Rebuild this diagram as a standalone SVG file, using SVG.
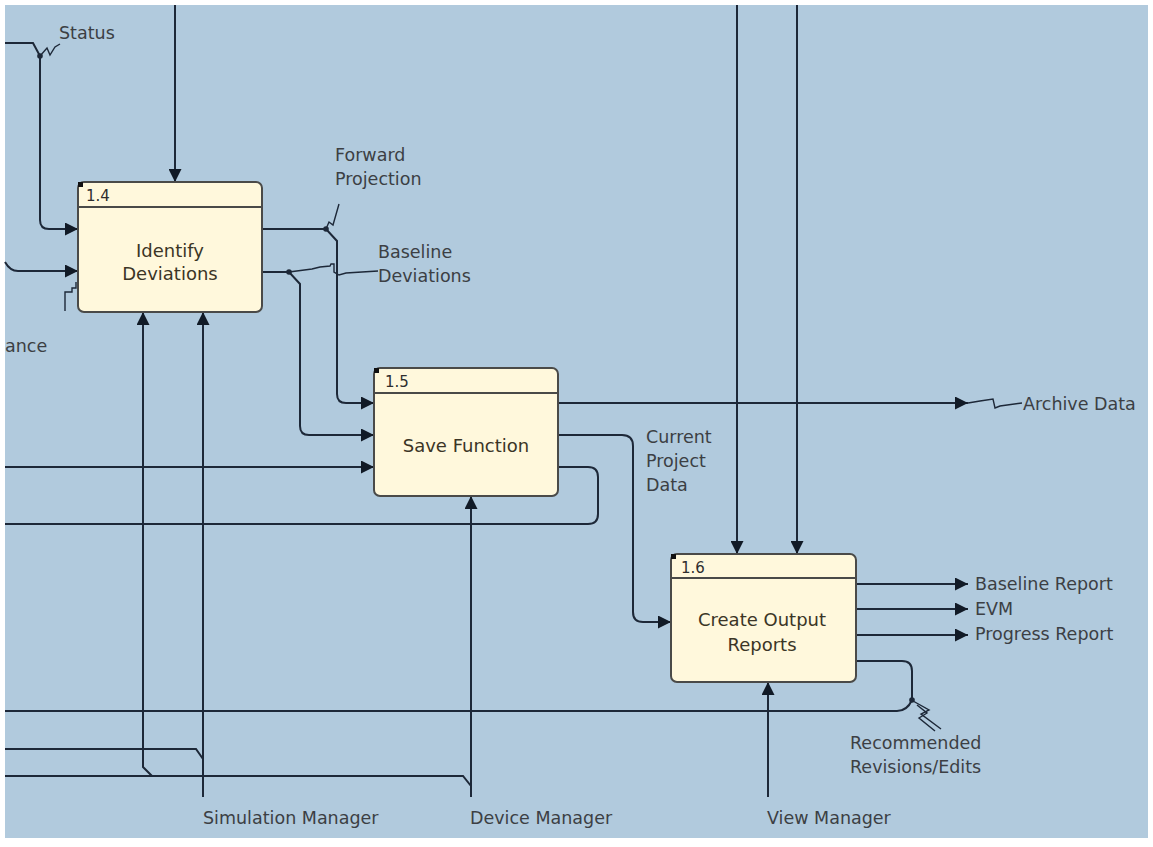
<svg xmlns="http://www.w3.org/2000/svg" width="1153" height="847" viewBox="0 0 1153 847">
  <style>
    .bg { fill: #b1cadd; }
    .box { fill: #fff8dc; stroke: #4a4a48; stroke-width: 2; }
    .hdr { stroke: #4a4a48; stroke-width: 2; }
    .flow { fill: none; stroke: #1d2838; stroke-width: 2; }
    .tick { fill: none; stroke: #1d2838; stroke-width: 1.4; }
    .dot { fill: #1d2838; }
    .corner { fill: #111; }
    text { font-family: "DejaVu Sans", Verdana, sans-serif; font-size: 17.5px; fill: #3c3f44; }
    .num { font-size: 15px; fill: #2e2e2e; }
    .name { font-size: 18px; text-anchor: middle; fill: #3b3526; }
  </style>
  <defs>
    <marker id="arrow" viewBox="0 0 12 12" refX="12" refY="6" markerWidth="13" markerHeight="13" markerUnits="userSpaceOnUse" orient="auto">
      <path d="M0,0 L12,6 L0,12 z" fill="#111a26"/>
    </marker>
  </defs>

  <rect width="1153" height="847" fill="#ffffff"/>
  <rect class="bg" x="5" y="5" width="1143" height="833"/>

  <!-- data flows -->
  <g id="connectors">
    <!-- controls from above -->
    <path class="flow" d="M175,5 L175,182" marker-end="url(#arrow)"/>
    <path class="flow" d="M737,5 L737,554" marker-end="url(#arrow)"/>
    <path class="flow" d="M797,5 L797,554" marker-end="url(#arrow)"/>

    <!-- Status into 1.4 -->
    <path class="flow" d="M5,43 L33,43 L40,56 L40,220 Q40,229 49,229 L78,229" marker-end="url(#arrow)"/>
    <circle class="dot" cx="40" cy="56" r="2.8"/>
    <path class="tick" d="M40,56 L47,48 L50,55 L55,47 L60,44"/>

    <!-- left input into 1.4 -->
    <path class="flow" d="M5,262 Q10,271 18,271 L78,271" marker-end="url(#arrow)"/>
    <path class="tick" d="M65,311 L65,292 L72,292 L72,288 L76,288 L76,282"/>

    <!-- Forward Projection: 1.4 to 1.5 -->
    <path class="flow" d="M262,229 L326,229 L337,241 L337,394 Q337,403 346,403 L374,403" marker-end="url(#arrow)"/>
    <circle class="dot" cx="326" cy="229" r="2.8"/>
    <path class="tick" d="M326,229 L329,222 L333,225 L339,204"/>

    <!-- Baseline Deviations: 1.4 to 1.5 -->
    <path class="flow" d="M262,272 L289,272 L300,284 L300,426 Q300,435 309,435 L374,435" marker-end="url(#arrow)"/>
    <circle class="dot" cx="289" cy="272" r="2.8"/>
    <path class="tick" d="M289,272 L312,269 L320,267 L330,266 L331,264 L334,264 L334,272 L339,275 L346,273 L378,271"/>

    <!-- left input into 1.5 -->
    <path class="flow" d="M5,467 L374,467" marker-end="url(#arrow)"/>

    <!-- 1.5 loop back out to the left -->
    <path class="flow" d="M558,467 L588,467 Q598,467 598,477 L598,514 Q598,524 588,524 L5,524"/>

    <!-- Archive Data -->
    <path class="flow" d="M558,403 L968,403" marker-end="url(#arrow)"/>
    <path class="tick" d="M968,403 L980,401 L993,399 L995,408 L1000,406 L1022,403"/>

    <!-- Current Project Data: 1.5 to 1.6 -->
    <path class="flow" d="M558,435 L622,435 Q633,435 633,446 L633,612 Q633,622 643,622 L671,622" marker-end="url(#arrow)"/>

    <!-- 1.6 report outputs -->
    <path class="flow" d="M856,584 L968,584" marker-end="url(#arrow)"/>
    <path class="flow" d="M856,609 L968,609" marker-end="url(#arrow)"/>
    <path class="flow" d="M856,635 L968,635" marker-end="url(#arrow)"/>

    <!-- Recommended Revisions/Edits -->
    <path class="flow" d="M856,661 L902,661 Q912,661 912,671 L912,700"/>
    <path class="flow" d="M912,700 Q907,711 897,711 L5,711"/>
    <circle class="dot" cx="912" cy="700" r="2.8"/>
    <path class="tick" d="M913,701 L929,710 L921,714 L941,729"/>
    <path class="tick" d="M917,705 L927,713 L919,718 L935,731"/>

    <!-- mechanisms from below -->
    <path class="flow" d="M203,797 L203,312" marker-end="url(#arrow)"/>
    <path class="flow" d="M5,749 L196,749 L203,759"/>
    <path class="flow" d="M152,776 L143,767 L143,312" marker-end="url(#arrow)"/>
    <path class="flow" d="M471,797 L471,496" marker-end="url(#arrow)"/>
    <path class="flow" d="M5,776 L463,776 L471,786"/>
    <path class="flow" d="M768,797 L768,682" marker-end="url(#arrow)"/>
  </g>

  <!-- 1.4 Identify Deviations -->
  <g id="node-1-4">
    <rect class="box" x="78" y="182" width="184" height="130" rx="6"/>
    <line class="hdr" x1="78" y1="207" x2="262" y2="207"/>
    <rect class="corner" x="78" y="182" width="5" height="5"/>
    <text class="num" x="86" y="201">1.4</text>
    <text class="name" x="170" y="257">Identify</text>
    <text class="name" x="170" y="280">Deviations</text>
  </g>

  <!-- 1.5 Save Function -->
  <g id="node-1-5">
    <rect class="box" x="374" y="368" width="184" height="128" rx="6"/>
    <line class="hdr" x1="374" y1="393" x2="558" y2="393"/>
    <rect class="corner" x="374" y="368" width="5" height="5"/>
    <text class="num" x="385" y="387">1.5</text>
    <text class="name" x="466" y="452">Save Function</text>
  </g>

  <!-- 1.6 Create Output Reports -->
  <g id="node-1-6">
    <rect class="box" x="671" y="554" width="185" height="128" rx="6"/>
    <line class="hdr" x1="671" y1="578" x2="856" y2="578"/>
    <rect class="corner" x="671" y="554" width="5" height="5"/>
    <text class="num" x="681" y="573">1.6</text>
    <text class="name" x="762" y="626">Create Output</text>
    <text class="name" x="762" y="651">Reports</text>
  </g>

  <!-- flow labels -->
  <g id="labels">
    <text x="59" y="39">Status</text>
    <text x="335" y="161">Forward</text>
    <text x="335" y="185">Projection</text>
    <text x="378" y="258">Baseline</text>
    <text x="378" y="282">Deviations</text>
    <text x="5" y="352">ance</text>
    <text x="1023" y="410">Archive Data</text>
    <text x="646" y="443">Current</text>
    <text x="646" y="467">Project</text>
    <text x="646" y="491">Data</text>
    <text x="975" y="590">Baseline Report</text>
    <text x="975" y="615">EVM</text>
    <text x="975" y="640">Progress Report</text>
    <text x="850" y="749">Recommended</text>
    <text x="850" y="773">Revisions/Edits</text>
    <text x="203" y="824">Simulation Manager</text>
    <text x="470" y="824">Device Manager</text>
    <text x="767" y="824">View Manager</text>
  </g>
</svg>
